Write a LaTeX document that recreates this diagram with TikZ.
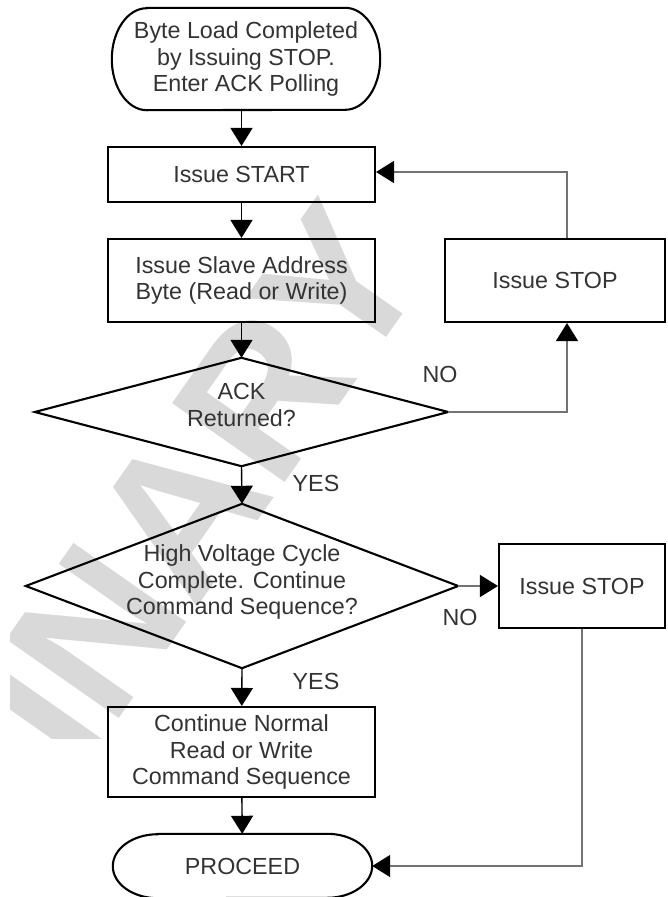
\documentclass[tikz,border=0pt]{standalone}
\usepackage{fontspec}
\setmainfont{Liberation Sans}
\usetikzlibrary{arrows.meta}
\definecolor{wmgray}{gray}{0.85}
\definecolor{lnkgray}{gray}{0.45}
\begin{document}
\begin{tikzpicture}[x=1pt,y=-1pt,
  txt/.style={font=\fontsize{23.3}{26.8}\selectfont, text=black!80, align=center, inner sep=0pt},
  boxnode/.style={txt, draw, line width=2.1pt},
  plainshape/.style={txt},
  shapeline/.style={draw, line width=2.1pt},
  arr/.style={draw, line width=1.4pt, -{Triangle[length=18pt,width=22pt]}},
  arrg/.style={draw=lnkgray, line width=1.5pt, -{Triangle[length=18pt,width=22pt,color=black]}},
  wmtext/.style={font=\fontsize{200}{200}\selectfont\bfseries, text=wmgray, inner sep=0pt}
]
\useasboundingbox (0,0) rectangle (667,897);

% watermark (visible part)
\begin{scope}
  \clip (10,0) rectangle (667,738);
  \node[wmtext, rotate=55] (wm) at (200,484) {INARY};
\end{scope}

% terminal: start
\node[plainshape, minimum width=268pt, minimum height=102pt] (start) at (246,59)
  {Byte Load Completed\\by Issuing STOP.\\Enter ACK Polling};
\draw[shapeline] ([xshift=35pt]start.north west) -- ([xshift=-35pt]start.north east)
  arc[start angle=90,end angle=-90,x radius=35pt,y radius=51pt]
  -- ([xshift=35pt]start.south west)
  arc[start angle=270,end angle=90,x radius=35pt,y radius=51pt] -- cycle;

% boxes
\node[boxnode, minimum width=267pt, minimum height=55pt] (b1) at (241.5,174.5) {Issue START};
\node[boxnode, minimum width=267pt, minimum height=83pt] (b2) at (241.5,280.5)
  {Issue Slave Address\\Byte (Read or Write)};
\node[boxnode, minimum width=220pt, minimum height=83pt] (s1) at (555,280.5) {Issue STOP};

% diamond 1
\node[plainshape, minimum width=413pt, minimum height=108pt] (d1) at (241.5,412) {};
\draw[shapeline] (d1.north) -- (d1.east) -- (d1.south) -- (d1.west) -- cycle;
\node[txt] (d1t) at (241.5,405) {ACK\\Returned?};

% diamond 2
\node[plainshape, minimum width=432pt, minimum height=164pt] (d2) at (242,586) {};
\draw[shapeline] (d2.north) -- (d2.east) -- (d2.south) -- (d2.west) -- cycle;
\node[txt] (d2t) at (242,582) {High Voltage Cycle\\Complete. Continue\\Command Sequence?};

\node[boxnode, minimum width=166pt, minimum height=84pt] (s2) at (582,586) {Issue STOP};

\node[boxnode, minimum width=267pt, minimum height=90pt] (b3) at (241.5,752)
  {Continue Normal\\Read or Write\\Command Sequence};

% terminal: proceed
\node[plainshape, minimum width=259pt, minimum height=64pt] (proc) at (242.5,866) {PROCEED};
\draw[shapeline] ([xshift=45pt]proc.north west) -- ([xshift=-45pt]proc.north east)
  arc[start angle=90,end angle=-90,x radius=45pt,y radius=32pt]
  -- ([xshift=45pt]proc.south west)
  arc[start angle=270,end angle=90,x radius=45pt,y radius=32pt] -- cycle;

% labels
\node[txt] (no1) at (440,374) {NO};
\node[txt] (yes1) at (316,483) {YES};
\node[txt] (no2) at (460,617) {NO};
\node[txt] (yes2) at (316,681) {YES};

% loop coordinate
\coordinate (loop) at (567,172);

% connectors
\draw[arr] (start.south -| b1.north) -- (b1.north);
\draw[arr] (b1) -- (b2);
\draw[arr] (b2) -- (d1.north);
\draw[arr] (d1.south) -- (d2.north);
\draw[arr] (d2.south) -- (b3);
\draw[arr] (b3) -- (proc);
\draw[arrg] (d1.east) -| (s1.south -| loop);
\draw[arrg] (s1.north -| loop) -- (loop) -- (loop -| b1.east);
\draw[arrg] (d2.east) -- (s2.west);
\draw[arrg] (s2.south) |- (proc.east);
\end{tikzpicture}
\end{document}
